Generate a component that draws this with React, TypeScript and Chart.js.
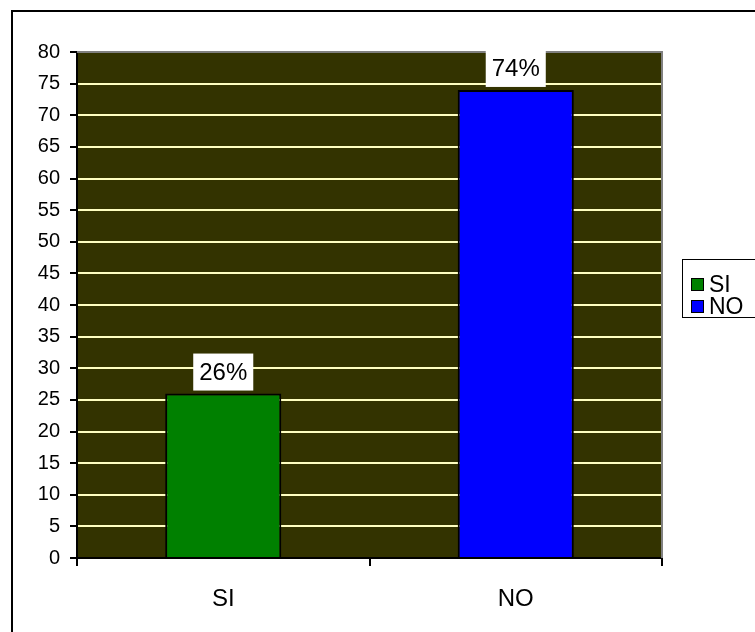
import React, { useEffect, useRef } from "react";
import { Chart, registerables } from "chart.js";

Chart.register(...registerables);

const categories = ["SI", "NO"];
const values = [26, 74];
const barColors = ["#008000", "#0000FF"];
const yTicks = [0, 5, 10, 15, 20, 25, 30, 35, 40, 45, 50, 55, 60, 65, 70, 75, 80];

const FONT = "'Liberation Sans', Arial, sans-serif";

const framePlugin = {
  id: "framePlugin",
  beforeDraw(chart: any) {
    const { ctx, chartArea } = chart;
    ctx.save();
    ctx.fillStyle = "#ffffff";
    ctx.fillRect(0, 0, chart.width, chart.height);
    ctx.fillStyle = "#333300";
    ctx.fillRect(chartArea.left, chartArea.top, chartArea.right - chartArea.left, chartArea.bottom - chartArea.top);
    ctx.restore();
  },
  afterDatasetsDraw(chart: any) {
    const { ctx, chartArea } = chart;
    ctx.save();
    ctx.strokeStyle = "#808080";
    ctx.lineWidth = 2;
    ctx.beginPath();
    ctx.moveTo(chartArea.left, chartArea.top);
    ctx.lineTo(chartArea.right, chartArea.top);
    ctx.lineTo(chartArea.right, chartArea.bottom);
    ctx.stroke();
    const meta = chart.getDatasetMeta(0);
    ctx.font = `24px ${FONT}`;
    ctx.textAlign = "center";
    ctx.textBaseline = "middle";
    meta.data.forEach((bar: any, i: number) => {
      const text = `${values[i]}%`;
      const w = ctx.measureText(text).width + 12;
      const h = 37;
      const bottom = bar.y - 3;
      ctx.fillStyle = "#ffffff";
      ctx.fillRect(bar.x - w / 2, bottom - h, w, h);
      ctx.fillStyle = "#000000";
      ctx.fillText(text, bar.x, bottom - h / 2 + 1);
    });
    ctx.restore();
  },
  afterDraw(chart: any) {
    const { ctx } = chart;
    ctx.save();
    ctx.strokeStyle = "#000000";
    ctx.lineWidth = 2;
    ctx.strokeRect(12, 11, 900, 800);
    ctx.lineWidth = 1;
    ctx.strokeRect(682.5, 259.5, 100, 58);
    ctx.font = `23px ${FONT}`;
    ctx.textAlign = "left";
    ctx.textBaseline = "middle";
    categories.forEach((c, i) => {
      const cy = 285 + i * 22;
      ctx.fillStyle = barColors[i];
      ctx.fillRect(691.5, cy - 6.5, 12, 12);
      ctx.strokeStyle = "#000000";
      ctx.strokeRect(691.5, cy - 6.5, 12, 12);
      ctx.fillStyle = "#000000";
      ctx.fillText(c, 709, cy + 1);
    });
    ctx.restore();
  },
};

export default function App() {
  const ref = useRef<HTMLCanvasElement | null>(null);
  useEffect(() => {
    if (!ref.current) return;
    const chart = new Chart(ref.current, {
      type: "bar",
      data: {
        labels: categories,
        datasets: [
          {
            data: values,
            backgroundColor: barColors,
            borderColor: "#000000",
            borderWidth: 2,
            categoryPercentage: 1,
            barPercentage: 0.397,
          },
        ],
      },
      options: {
        animation: false,
        responsive: false,
        devicePixelRatio: 1,
        layout: { padding: { top: 52, right: 93, left: 0, bottom: 0 } },
        plugins: { legend: { display: false }, tooltip: { enabled: false } },
        scales: {
          x: {
            afterFit: (s: any) => {
              s.height = 74;
            },
            grid: {
              offset: true,
              drawOnChartArea: false,
              color: "#000000",
              tickColor: "#000000",
              tickLength: 8,
              lineWidth: 2,
            },
            border: { color: "#000000", width: 2 },
            ticks: { color: "#000000", font: { family: FONT, size: 24 }, padding: 19 },
          },
          y: {
            min: 0,
            max: 80,
            afterFit: (s: any) => {
              s.width = 77;
            },
            afterBuildTicks: (s: any) => {
              s.ticks = yTicks.map((v) => ({ value: v }));
            },
            grid: {
              color: "#FFFFC0",
              tickColor: "#000000",
              tickLength: 7,
              lineWidth: 2,
            },
            border: { color: "#000000", width: 2 },
            ticks: { color: "#000000", font: { family: FONT, size: 20 }, padding: 10 },
          },
        },
      },
      plugins: [framePlugin],
    });
    return () => chart.destroy();
  }, []);
  return (
    <div style={{ position: "absolute", left: 0, top: 0, width: 755, height: 632 }}>
      <canvas ref={ref} width={755} height={632} style={{ display: "block" }} />
    </div>
  );
}
